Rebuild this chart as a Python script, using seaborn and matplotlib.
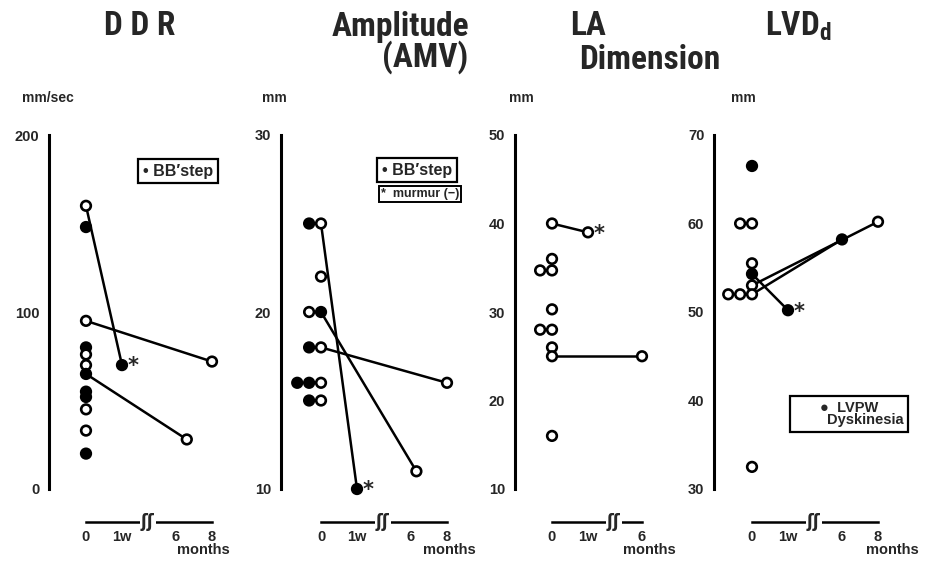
import numpy as np
import pandas as pd
import matplotlib
matplotlib.use("Agg")
import matplotlib.pyplot as plt
from matplotlib import font_manager
import seaborn as sns

# ---- data ----
# time in months; 1 week = 0.25
ddr_v0 = [160, 148, 95, 80, 76, 70, 65, 55, 52, 45, 33, 20]
ddr_f0 = [0, 1, 0, 1, 0, 0, 1, 1, 1, 0, 0, 1]          # 1 = BB' step (filled)
ddr_link = [0, 2, 6]                                   # baseline index of follow-up
ddr_t1 = [0.25, 8, 6.6]
ddr_v1 = [70, 72, 28]
ddr_f1 = [1, 0, 0]

amv_v0 = [25, 25, 22, 20, 20, 18, 18, 16, 16, 16, 15, 15]
amv_f0 = [0, 1, 0, 1, 0, 0, 1, 0, 1, 1, 0, 1]
amv_link = [0, 3, 5]
amv_t1 = [0.25, 6.3, 8]
amv_v1 = [10, 11, 16]
amv_f1 = [1, 0, 0]

la_v0 = [40, 36, 34.7, 34.7, 30.3, 28, 28, 26, 25, 16]
la_f0 = [0] * 10
la_link = [0, 8]
la_t1 = [0.25, 6]
la_v1 = [39, 25]
la_f1 = [0, 0]

lv_v0 = [66.5, 60, 60, 55.5, 54.3, 53, 52, 52, 52, 32.5]
lv_f0 = [1, 0, 0, 0, 1, 0, 0, 0, 0, 0]          # 1 = LVPW dyskinesia
lv_link = [4, 5, 6]
lv_t1 = [0.25, 8, 6]
lv_v1 = [50.2, 60.2, 58.2]
lv_f1 = [1, 0, 1]

# ---- fonts ----
sns.set_theme(style="white")
names = {f.name for f in font_manager.fontManager.ttflist}
narrow = [n for n in ["Liberation Sans Narrow", "DejaVu Sans Condensed", "Roboto Condensed"] if n in names]
title_family = narrow + ["DejaVu Sans"]
plt.rcParams["font.family"] = ["Liberation Sans", "DejaVu Sans"]


def tpos(t):
    # 0 -> 0, 1 week -> 1, then broken axis: 6 months -> 2.5, 8 months -> 3.5
    return t * 4 if t <= 0.25 else 2.5 + (t - 6) * 0.5


def panel(ax, v0, f0, link, t1, v1, f1, ylim, yticks, tlabels, months_dx):
    # baseline points: equal values stacked to the left
    seen = {}
    offs = []
    for v in v0:
        k = seen.get(v, 0)
        offs.append(-0.33 * k)
        seen[v] = k + 1
    base = pd.DataFrame({"pos": offs, "val": v0, "filled": f0})
    fol = pd.DataFrame({"pos": [tpos(t) for t in t1], "val": v1, "filled": f1})

    rows = []
    for i, (j, t, v) in enumerate(zip(link, t1, v1)):
        rows.append({"pair": i, "pos": offs[j], "val": v0[j]})
        rows.append({"pair": i, "pos": tpos(t), "val": v})
    lines = pd.DataFrame(rows)
    sns.lineplot(data=lines, x="pos", y="val", units="pair", estimator=None,
                 color="black", lw=1.8, sort=False, ax=ax, legend=False, zorder=2)

    pts = pd.concat([base, fol], ignore_index=True)
    sns.scatterplot(data=pts, x="pos", y="val", hue="filled",
                    palette={0: "white", 1: "black"}, edgecolor="black",
                    linewidth=1.9, s=48, legend=False, ax=ax, zorder=3, clip_on=False)

    # asterisk at the 1 week point (murmur disappeared)
    for t, v in zip(t1, v1):
        if t == 0.25:
            ax.annotate("*", xy=(tpos(t), v), xytext=(8, -1), textcoords="offset points",
                        ha="center", va="center", fontsize=15, fontweight="bold",
                        family="DejaVu Sans", zorder=4)

    ax.set_ylim(*ylim)
    ax.set_yticks(yticks)
    ax.set_yticklabels([str(y) for y in yticks], fontweight="bold", fontsize=10.5)
    ax.set_xlabel("")
    ax.set_ylabel("")

    sns.despine(ax=ax, top=True, right=True)
    ax.spines["left"].set_linewidth(2.2)
    ax.spines["left"].set_color("black")
    ax.spines["bottom"].set_position(("outward", 24))
    ax.spines["bottom"].set_linewidth(1.8)
    ax.spines["bottom"].set_color("black")
    tp = [0, 1, 2.5, 3.5][:len(tlabels)]
    ax.spines["bottom"].set_bounds(0, tp[-1])
    ax.set_xticks(tp)
    ax.set_xticklabels(tlabels, fontweight="bold", fontsize=10.5)
    ax.tick_params(axis="both", direction="out", length=5, width=1.8, color="black", pad=2)
    ax.tick_params(axis="x", pad=0.5)
    # break mark on the time line
    ax.annotate("ʃʃ", xy=(1.72, 0), xycoords=("data", "axes fraction"),
                xytext=(0, -24), textcoords="offset points", ha="center", va="center",
                fontsize=12, fontweight="bold", family="DejaVu Sans",
                bbox=dict(boxstyle="square,pad=0.05", fc="white", ec="none"),
                annotation_clip=False)
    ax.annotate("months", xy=(tp[-1], 0), xycoords=("data", "axes fraction"),
                xytext=(months_dx, -44), textcoords="offset points", ha="center", va="center",
                fontsize=10.5, fontweight="bold", annotation_clip=False)


fig = plt.figure(figsize=(9.29, 5.62), dpi=100)
W, H = 929, 562
top, bottom = 135, 489
unit = 36.0


def add_axes(left, right, x0):
    ax = fig.add_axes([left / W, 1 - bottom / H, (right - left) / W, (bottom - top) / H])
    ax.patch.set_alpha(0)
    return ax


ax1 = add_axes(49, 232, 86)
panel(ax1, ddr_v0, ddr_f0, ddr_link, ddr_t1, ddr_v1, ddr_f1,
      (0, 200), [0, 100, 200], ["0", "1w", "6", "8"], -6)
ax1.set_xlim((49 - 86) / unit, (232 - 86) / unit)

ax2 = add_axes(281, 480, 321)
panel(ax2, amv_v0, amv_f0, amv_link, amv_t1, amv_v1, amv_f1,
      (10, 30), [10, 20, 30], ["0", "1w", "6", "8"], 2)
ax2.set_xlim((281 - 321) / unit, (480 - 321) / unit)

ax3 = add_axes(515, 690, 552)
panel(ax3, la_v0, la_f0, la_link, la_t1, la_v1, la_f1,
      (10, 50), [10, 20, 30, 40, 50], ["0", "1w", "6"], 5)
ax3.set_xlim((515 - 552) / unit, (690 - 552) / unit)

ax4 = add_axes(714, 925, 752)
panel(ax4, lv_v0, lv_f0, lv_link, lv_t1, lv_v1, lv_f1,
      (30, 70), [30, 40, 50, 60, 70], ["0", "1w", "6", "8"], 10)
ax4.set_xlim((714 - 752) / unit, (925 - 752) / unit)


def ftext(x, y, s, **kw):
    fig.text(x / W, 1 - y / H, s, **kw)


# titles
tkw = dict(fontsize=24, fontweight="bold", family=title_family, va="center")
ftext(140, 26, "D D R", ha="center", **tkw)
ftext(400, 27, "Amplitude", ha="center", **tkw)
ftext(425, 57, "(AMV)", ha="center", **tkw)
ftext(570, 26, "LA", ha="left", **tkw)
ftext(650, 60, "Dimension", ha="center", **tkw)
ftext(798, 26, r"LVD$_{\mathregular{d}}$", ha="center", **tkw)

# units
ukw = dict(fontsize=10, fontweight="bold", va="center", ha="center")
ftext(48, 98, "mm/sec", **ukw)
ftext(274, 98, "mm", **ukw)
ftext(521, 98, "mm", **ukw)
ftext(743, 98, "mm", **ukw)

# legend boxes
box = dict(boxstyle="square,pad=0.3", fc="white", ec="black", lw=1.6)
ftext(178, 171, "• BB′step", ha="center", va="center", fontsize=11.5,
      fontweight="bold", bbox=box)
ftext(417, 170, "• BB′step", ha="center", va="center", fontsize=11.5,
      fontweight="bold", bbox=box)
ftext(420, 194, "*  murmur (−)", ha="center", va="center", fontsize=9,
      fontweight="bold", bbox=dict(boxstyle="square,pad=0.15", fc="white", ec="black", lw=1.4))
ftext(849, 414, "●  LVPW\n        Dyskinesia", ha="center", va="center", fontsize=10.5,
      fontweight="bold", linespacing=0.9, bbox=box)

fig.savefig("out.png", dpi=100)
